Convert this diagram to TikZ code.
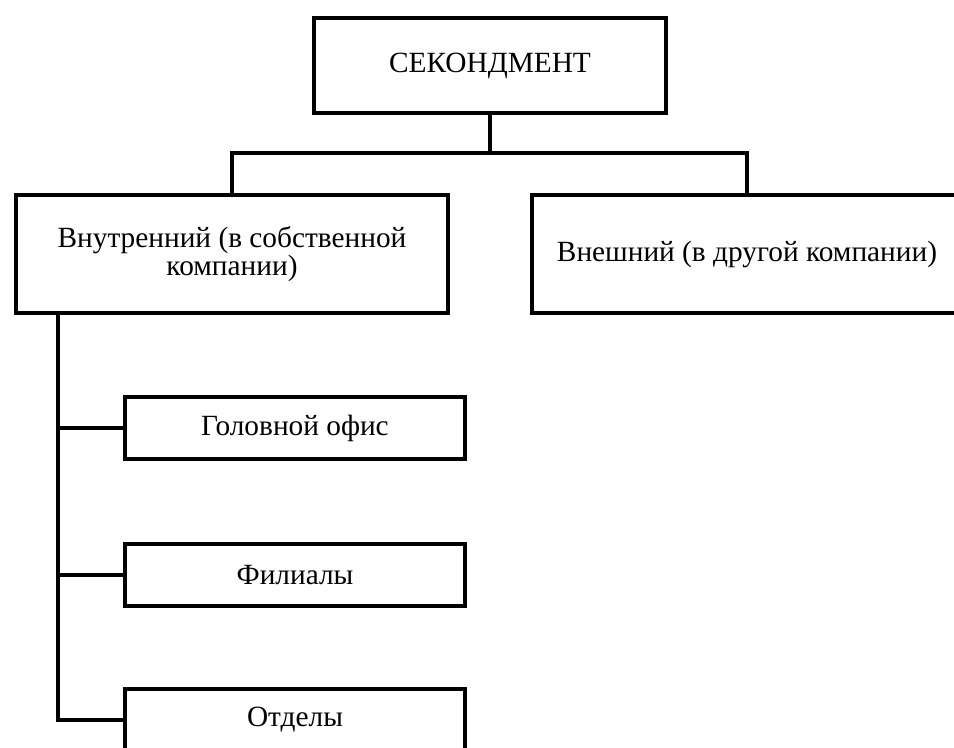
\documentclass[tikz,border=0pt]{standalone}
\usepackage{fontspec}
\setmainfont{Liberation Serif}
\usepackage{tikz}

\begin{document}
\begin{tikzpicture}[x=0.75pt,y=-0.75pt,line width=3pt,
   box/.style={draw,line width=3pt,inner sep=0pt,align=center,
     font=\fontsize{22}{21}\selectfont},
   subbox/.style={box,minimum width=255pt,minimum height=46.5pt},
   link/.style={line join=miter}]
  \useasboundingbox (0,0) rectangle (954,748);
  % top level
  \node[box,minimum width=264pt,minimum height=71.25pt] (sec) at (490,65.5){СЕКОНДМЕНТ};
  % second level
  \node[box,minimum width=324pt,minimum height=88.5pt] (inner) at (232,254)
     {Внутренний (в собственной\\компании)};
  \node[box,minimum width=322.5pt,minimum height=88.5pt] (outer) at (747,254)
     {Внешний (в другой компании)};
  % departments
  \node[subbox] (head) at (295,428){Головной офис};
  \node[subbox] (branch) at (295,575.5){Филиалы};
  \node[subbox] (dept) at (295,720){Отделы};
  % bus lines
  \coordinate (bus) at (490,153);
  \coordinate (spine) at (58,315);
  \draw[link] (sec.south) -- (bus);
  \draw[link] (inner.north) |- (bus) -| (outer.north);
  \draw[link] (spine) |- (head.west);
  \draw[link] (spine) |- (branch.west);
  \draw[link] (spine) |- (dept.west);
\end{tikzpicture}
\end{document}
